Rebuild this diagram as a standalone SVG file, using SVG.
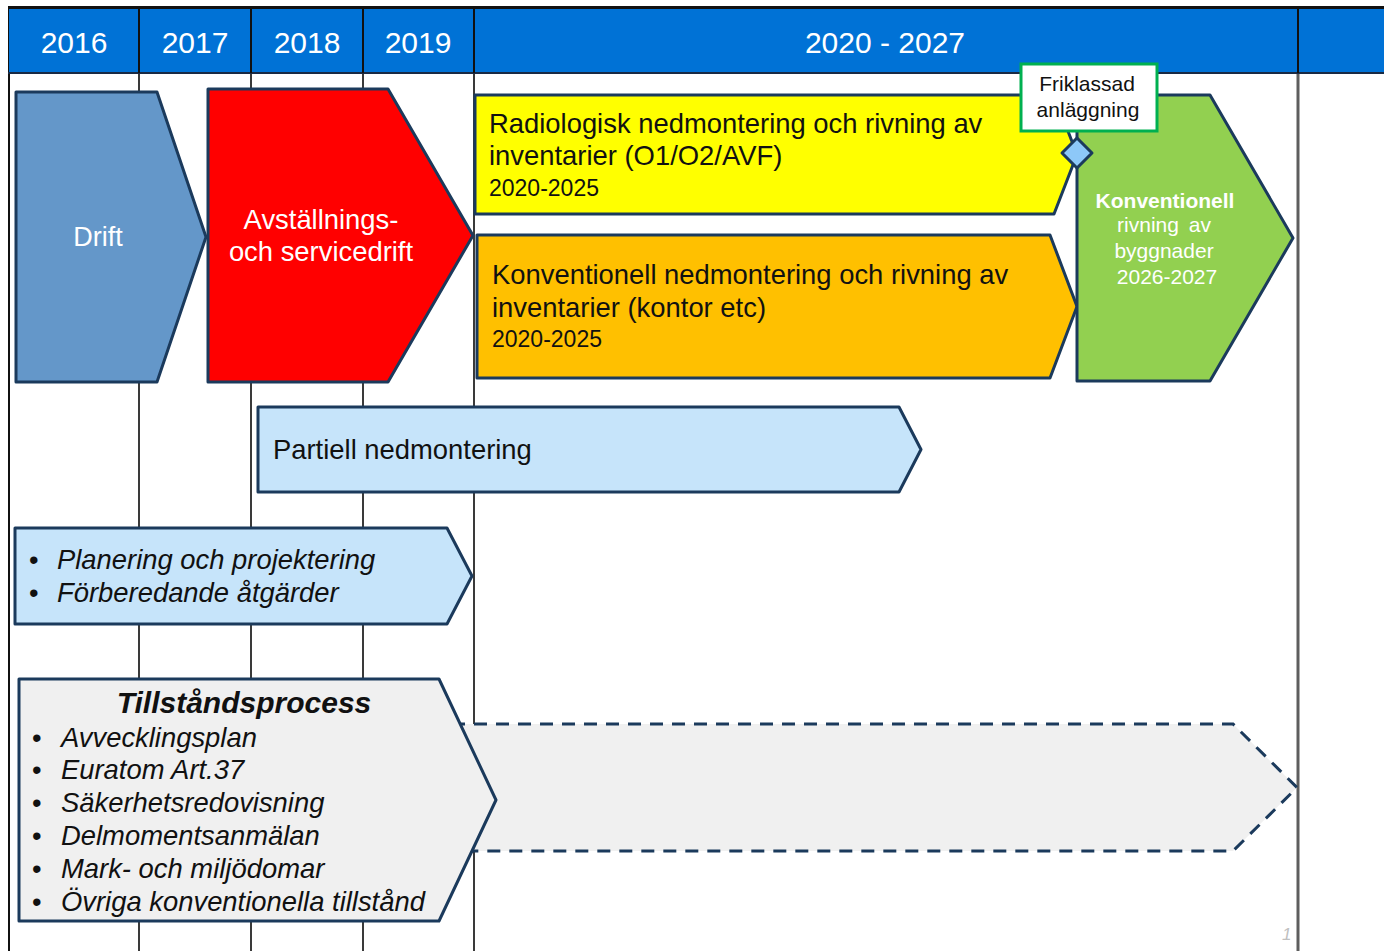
<svg xmlns="http://www.w3.org/2000/svg" width="1384" height="951" viewBox="0 0 1384 951">
<defs>
<style>
.t{font-family:"Liberation Sans",Arial,sans-serif;}
.yr{font-size:30px;fill:#ffffff;text-anchor:middle;}
.shape{stroke:#1B3A5C;stroke-width:3;stroke-linejoin:round;}
.dk{fill:#111111;font-size:27.4px;}
.wh{fill:#ffffff;}
.it{font-style:italic;}
.grid{stroke:#3a3a3a;stroke-width:2;}
</style>
</defs>
<rect x="0" y="0" width="1384" height="951" fill="#ffffff"/>
<g id="grid">
<line class="grid" x1="139" y1="73" x2="139" y2="951"/>
<line class="grid" x1="251" y1="73" x2="251" y2="951"/>
<line class="grid" x1="363" y1="73" x2="363" y2="951"/>
<line class="grid" x1="474" y1="73" x2="474" y2="951"/>
<line x1="1298" y1="73" x2="1298" y2="951" stroke="#5e5e5e" stroke-width="3"/>
<line x1="9" y1="7" x2="9" y2="951" stroke="#111" stroke-width="2"/>
</g>
<g id="header">
<rect x="9" y="8" width="1375" height="65" fill="#0072D6"/>
<line x1="8" y1="7.5" x2="1384" y2="7.5" stroke="#111" stroke-width="3"/>
<line x1="8" y1="73" x2="1384" y2="73" stroke="#1a2a44" stroke-width="2"/>
<g stroke="#111" stroke-width="2">
<line x1="139" y1="8" x2="139" y2="73"/>
<line x1="251" y1="8" x2="251" y2="73"/>
<line x1="363" y1="8" x2="363" y2="73"/>
<line x1="474" y1="8" x2="474" y2="73"/>
<line x1="1298" y1="8" x2="1298" y2="73"/>
</g>
<text class="t yr" x="74" y="53">2016</text>
<text class="t yr" x="195" y="53">2017</text>
<text class="t yr" x="307" y="53">2018</text>
<text class="t yr" x="418" y="53">2019</text>
<text class="t yr" x="885" y="53">2020 - 2027</text>
</g>
<g id="connectors">
<line x1="1077" y1="132" x2="1077" y2="138" stroke="#c8d4e0" stroke-width="2"/>
</g>
<g id="dashed-tillstand">
<polygon points="452,724 1233,724 1297,787.5 1233,851 452,851" fill="#F0F0F0" stroke="#1B3A5C" stroke-width="3" stroke-dasharray="13,9"/>
</g>
<g id="drift">
<polygon class="shape" points="16,92 157,92 206,237 157,382 16,382" fill="#6497C9"/>
<text class="t wh" x="98" y="246" font-size="27" text-anchor="middle">Drift</text>
</g>
<g id="avstallning">
<polygon class="shape" points="208,89 388,89 473,235.5 388,382 208,382" fill="#FF0000"/>
<text class="t wh" font-size="27.4" text-anchor="middle"><tspan x="321" y="229">Avställnings-</tspan><tspan x="321" y="261">och servicedrift</tspan></text>
</g>
<g id="radiologisk">
<polygon class="shape" points="475,95 1054,95 1077,154.5 1054,214 475,214" fill="#FFFF00"/>
<text class="t dk"><tspan x="489" y="133">Radiologisk nedmontering och rivning av</tspan><tspan x="489" y="165">inventarier (O1/O2/AVF)</tspan><tspan x="489" y="196" font-size="23">2020-2025</tspan></text>
</g>
<g id="konventionell-inventarier">
<polygon class="shape" points="477,235 1050,235 1077,306.5 1050,378 477,378" fill="#FFC000"/>
<text class="t dk"><tspan x="492" y="284">Konventionell nedmontering och rivning av</tspan><tspan x="492" y="317">inventarier (kontor etc)</tspan><tspan x="492" y="347" font-size="23">2020-2025</tspan></text>
</g>
<g id="konventionell-rivning">
<polygon class="shape" points="1077,95 1210,95 1293,238 1210,381 1077,381" fill="#92D050"/>
<text class="t wh" font-size="21" text-anchor="middle"><tspan x="1165" y="208" font-weight="bold">Konventionell</tspan><tspan x="1164" y="232" word-spacing="4">rivning av</tspan><tspan x="1164" y="258">byggnader</tspan><tspan x="1167" y="284">2026-2027</tspan></text>
</g>
<g id="friklassad">
<rect x="1021" y="64" width="136" height="67" fill="#ffffff" stroke="#00B050" stroke-width="3"/>
<text class="t" font-size="21" fill="#111" text-anchor="middle"><tspan x="1087" y="91">Friklassad</tspan><tspan x="1088" y="117">anläggning</tspan></text>
</g>
<g id="milestone">
<polygon points="1077,138 1092,153 1077,168 1062,153" fill="#8DC8F8" stroke="#1B3A5C" stroke-width="3" stroke-linejoin="round"/>
</g>
<g id="partiell">
<polygon class="shape" points="258,407 899,407 921,449.5 899,492 258,492" fill="#C6E4FA"/>
<text class="t dk" x="273" y="459">Partiell nedmontering</text>
</g>
<g id="planering">
<polygon class="shape" points="15,528 447,528 472,576 447,624 15,624" fill="#C6E4FA"/>
<text class="t dk" x="29" y="569">•</text>
<text class="t dk it" x="57" y="569">Planering och projektering</text>
<text class="t dk" x="29" y="602">•</text>
<text class="t dk it" x="57" y="602">Förberedande åtgärder</text>
</g>
<g id="tillstand">
<polygon class="shape" points="19,679 439,679 496,800 439,921 19,921" fill="#F0F0F0"/>
<text class="t" font-size="30" font-weight="bold" font-style="italic" fill="#111" text-anchor="middle" x="244" y="713">Tillståndsprocess</text>
<g class="t dk">
<text x="32" y="747">•</text>
<text x="32" y="779">•</text>
<text x="32" y="812">•</text>
<text x="32" y="845">•</text>
<text x="32" y="878">•</text>
<text x="32" y="911">•</text>
</g>
<g class="t dk it">
<text x="61" y="747">Avvecklingsplan</text>
<text x="61" y="779">Euratom Art.37</text>
<text x="61" y="812">Säkerhetsredovisning</text>
<text x="61" y="845">Delmomentsanmälan</text>
<text x="61" y="878">Mark- och miljödomar</text>
<text x="61" y="911">Övriga konventionella tillstånd</text>
</g>
</g>
<text class="t" x="1282" y="940" font-size="17" font-style="italic" fill="#c0c0c0">1</text>
</svg>
